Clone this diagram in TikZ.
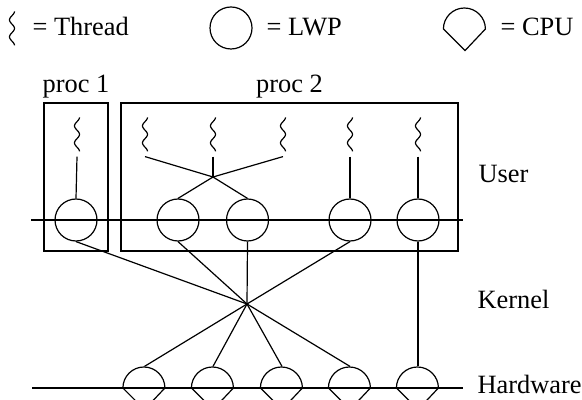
\documentclass[tikz,border=0pt]{standalone}
\usepackage{fontspec}
\setmainfont{Liberation Serif}

\tikzset{
  lwp/.style={draw, circle, inner sep=0pt, minimum size=21pt},
  cpu/.style={circle, inner sep=0pt, minimum size=21pt},
  thread/.style={inner sep=0pt, minimum width=4pt, minimum height=21pt},
  procbox/.style={draw, inner sep=0pt},
  lbl/.style={inner sep=0pt, anchor=base west},
  proclbl/.style={inner sep=0pt, anchor=base},
}

\newcommand{\cpushape}[1]{%
  \draw (#1.west) arc[start angle=180, end angle=0, radius=10.5pt] -- (#1.south) -- cycle;}
\newcommand{\threadshape}[1]{%
  \draw[shift={(#1.north)}] plot[variable=\t, domain=0:1, samples=40, smooth]
    ({2.5*cos(720*\t)}, {4+34*\t});}

\begin{document}
\begin{tikzpicture}[x=0.5pt, y=-0.5pt, line width=0.6pt, font=\fontsize{13.2}{15}\selectfont]
\useasboundingbox (0,0) rectangle (582,400);
\clip (0,0) rectangle (582,400);

\node[thread] (lt) at (12,29) {};
\threadshape{lt}
\node[lbl] (ltxt) at (32,36) {= Thread};
\node[lwp] (ll) at (231,28) {};
\node[lbl] (lltxt) at (266,36) {= LWP};
\node[cpu] (lc) at (465,29) {};
\cpushape{lc}
\node[lbl] (lctxt) at (500,36) {= CPU};

\node[procbox, minimum width=32pt, minimum height=74pt] (p1) at (76,177) {};
\node[proclbl] (p1txt) at (76,93) {proc 1};
\node[procbox, minimum width=168.5pt, minimum height=74pt] (p2) at (289.5,177) {};
\node[proclbl] (p2txt) at (289.5,93) {proc 2};

\coordinate (uw) at (31,220);
\coordinate (ue) at (463,220);
\draw (uw) -- (ue);
\coordinate (hw) at (32,388);
\coordinate (he) at (463,388);
\draw (hw) -- (he);

\node[lbl] (user) at (478,183) {User};
\node[lbl] (kernel) at (477,308) {Kernel};
\node[lbl] (hard) at (477,393) {Hardware};

\foreach \n/\xx in {1/77,2/145,3/213,4/283,5/350,6/418}{
  \node[thread] (t\n) at (\xx,135) {};
  \threadshape{t\n}
}

\foreach \n/\xx in {1/76,2/178,3/247.5,4/350,5/418}
  \node[lwp] (l\n) at (\xx,220) {};

\foreach \n/\xx in {1/144.5,2/213,3/282,4/350,5/418}{
  \node[cpu] (c\n) at (\xx,388) {};
  \cpushape{c\n}
}

\coordinate (mux) at (213,177);
\coordinate (hub) at (247,304);

\draw (t1.south) -- (l1.north);
\draw (t2.south) -- (mux) -- (l3.north);
\draw (t4.south) -- (mux) -- (l2.north);
\draw (t3.south) -- (mux);
\draw (t5.south) -- (l4.north);
\draw (t6.south) -- (l5.north);

\foreach \n in {1,...,4}
  \draw (l\n.south) -- (hub);
\foreach \n in {1,...,4}
  \draw (hub) -- (c\n.north);
\draw (l5.south) -- (c5.north);
\end{tikzpicture}
\end{document}
